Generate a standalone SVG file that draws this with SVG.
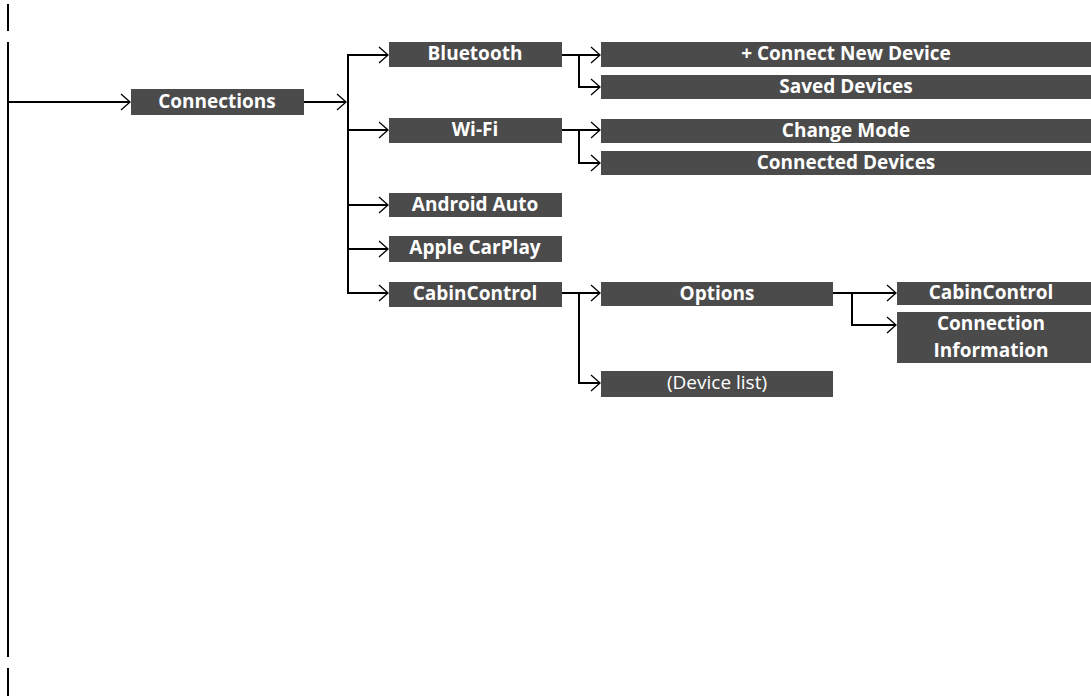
<svg xmlns="http://www.w3.org/2000/svg" width="1091" height="696" viewBox="0 0 1091 696">
<style>
.box{fill:#4b4b4b}
.t{font-family:"Open Sans","Noto Sans","DejaVu Sans",sans-serif;font-size:19px;font-weight:bold;fill:#ffffff;text-anchor:middle}
.r{font-weight:normal}
.c{fill:none;stroke:#000;stroke-width:2}
</style>
<defs>
<marker id="ar" markerUnits="userSpaceOnUse" markerWidth="12" markerHeight="20" viewBox="-11 -10 12 20" refX="0" refY="0" orient="auto">
<path d="M-9,-8 L0,0 L-9,8" fill="none" stroke="#000" stroke-width="1.3"/>
</marker>
</defs>
<rect width="1091" height="696" fill="#fff"/>
<g id="connectors">
<line class="c" x1="8" y1="4" x2="8" y2="31"/>
<line class="c" x1="8" y1="42" x2="8" y2="657"/>
<line class="c" x1="8" y1="668" x2="8" y2="696"/>
<path class="c" d="M8,102 H130" marker-end="url(#ar)"/>
<path class="c" d="M304,102 H346" marker-end="url(#ar)"/>
<path class="c" d="M348,293 V54"/>
<path class="c" d="M347,55 H388" marker-end="url(#ar)"/>
<path class="c" d="M348,130 H388" marker-end="url(#ar)"/>
<path class="c" d="M348,205 H388" marker-end="url(#ar)"/>
<path class="c" d="M348,249 H388" marker-end="url(#ar)"/>
<path class="c" d="M347,293 H388" marker-end="url(#ar)"/>
<path class="c" d="M562,55 H600" marker-end="url(#ar)"/>
<path class="c" d="M579,55 V87 H600" marker-end="url(#ar)"/>
<path class="c" d="M562,130 H600" marker-end="url(#ar)"/>
<path class="c" d="M579,130 V163 H600" marker-end="url(#ar)"/>
<path class="c" d="M562,293 H600" marker-end="url(#ar)"/>
<path class="c" d="M579,293 V383 H600" marker-end="url(#ar)"/>
<path class="c" d="M833,293 H896" marker-end="url(#ar)"/>
<path class="c" d="M852,293 V325 H896" marker-end="url(#ar)"/>
</g>
<g id="connections"><rect class="box" x="131" y="89" width="173" height="26"/><text class="t" x="217" y="108">Connections</text></g>
<g id="bluetooth"><rect class="box" x="389" y="42" width="173" height="25"/><text class="t" x="475" y="60">Bluetooth</text></g>
<g id="wifi"><rect class="box" x="389" y="118" width="173" height="25"/><text class="t" x="475" y="136">Wi-Fi</text></g>
<g id="android-auto"><rect class="box" x="389" y="193" width="173" height="24"/><text class="t" x="475" y="211">Android Auto</text></g>
<g id="apple-carplay"><rect class="box" x="389" y="236" width="173" height="26"/><text class="t" x="475" y="254">Apple CarPlay</text></g>
<g id="cabincontrol"><rect class="box" x="389" y="282" width="173" height="25"/><text class="t" x="475" y="300">CabinControl</text></g>
<g id="connect-new-device"><rect class="box" x="601" y="42" width="490" height="25"/><text class="t" x="846" y="60">+ Connect New Device</text></g>
<g id="saved-devices"><rect class="box" x="601" y="75" width="490" height="24"/><text class="t" x="846" y="93">Saved Devices</text></g>
<g id="change-mode"><rect class="box" x="601" y="119" width="490" height="24"/><text class="t" x="846" y="137">Change Mode</text></g>
<g id="connected-devices"><rect class="box" x="601" y="151" width="490" height="24"/><text class="t" x="846" y="169">Connected Devices</text></g>
<g id="options"><rect class="box" x="601" y="282" width="232" height="24"/><text class="t" x="717" y="300">Options</text></g>
<g id="device-list"><rect class="box" x="601" y="371" width="232" height="26"/><text class="t r" x="717" y="389">(Device list)</text></g>
<g id="cabincontrol-2"><rect class="box" x="897" y="282" width="194" height="23"/><text class="t" x="991" y="299">CabinControl</text></g>
<g id="connection-information"><rect class="box" x="897" y="312" width="194" height="51"/><text class="t" x="991" y="330">Connection</text><text class="t" x="991" y="357">Information</text></g>
</svg>
